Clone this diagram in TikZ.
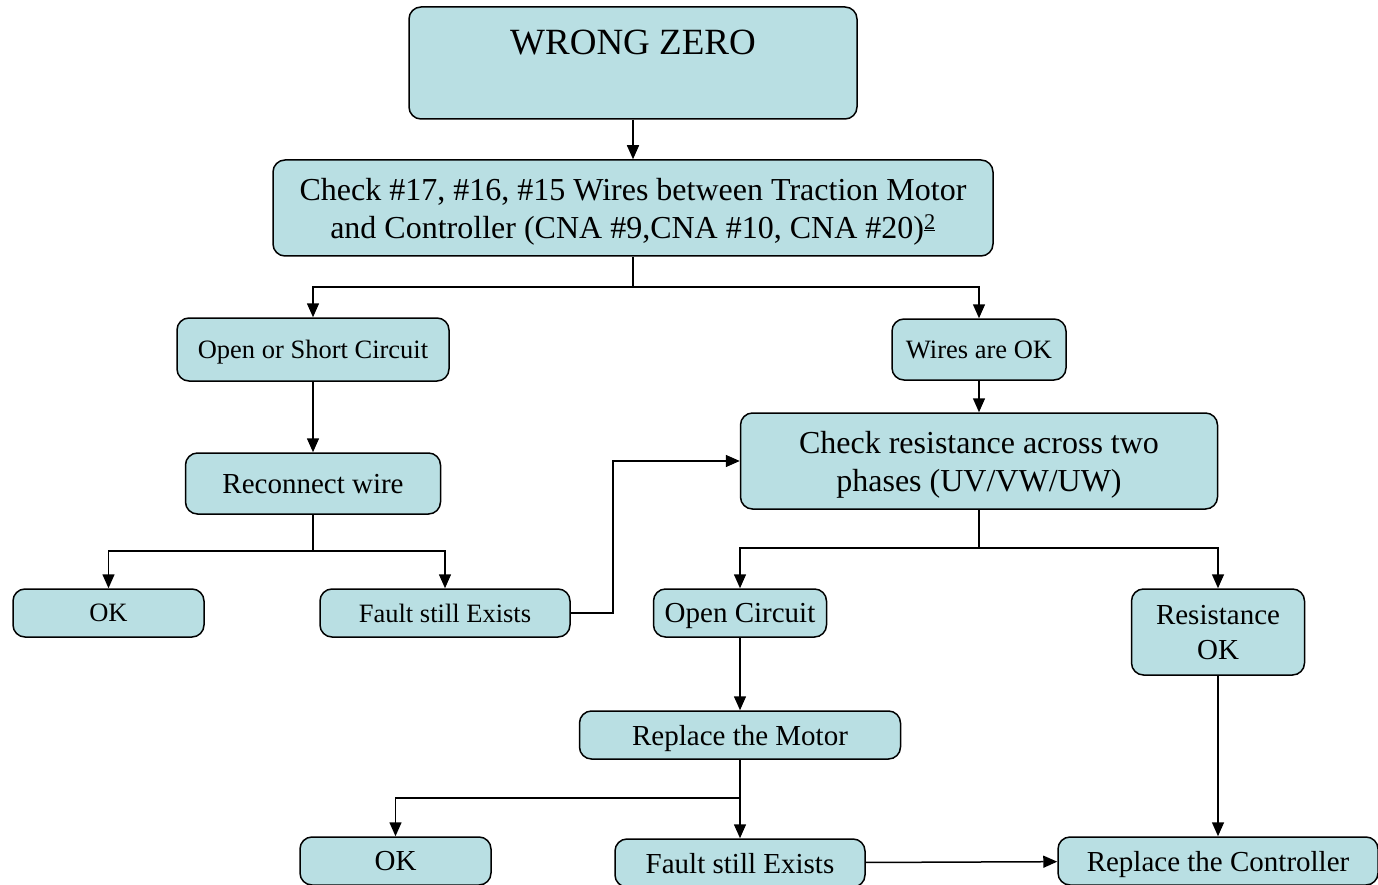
\documentclass[tikz,border=0pt]{standalone}
\usepackage{fontspec}
\setmainfont{Liberation Serif}
\usetikzlibrary{arrows.meta,positioning,calc}

\definecolor{boxfill}{RGB}{185,223,227}

\begin{document}
\begin{tikzpicture}[
  x=1pt, y=-1pt,
  font=\fontsize{29}{35}\selectfont,
  box/.style={
    rectangle, rounded corners=12pt,
    draw=black, line width=1.5pt, fill=boxfill,
    inner sep=0pt, align=center, text depth=0pt
  },
  smallbox/.style={
    box, font=\fontsize{26.5}{32}\selectfont
  },
  bigbox/.style={
    box, font=\fontsize{32}{38}\selectfont
  },
  line/.style={
    line width=1.5pt
  },
  arrow/.style={
    line, -{Triangle[length=14pt,width=12pt]}
  }
]
\useasboundingbox (0,0) rectangle (1378,885);

% Main flow
\node[box, font=\fontsize{37}{44}\selectfont, minimum width=448pt,
      text height=48pt, text depth=64pt] (wrong) at (633,63) {WRONG ZERO};
\node[bigbox, minimum width=720pt, minimum height=96pt] (check) at (633,208)
  {Check \#17, \#16, \#15 Wires between Traction Motor\\and Controller (CNA \#9,CNA \#10, CNA \#20)\textsuperscript{\underline{2}}};

% Left branch
\node[smallbox, minimum width=272pt, minimum height=63pt] (opsc) at (313,349.5) {Open or Short Circuit};
\node[box, minimum width=255pt, minimum height=61pt] (recon) at (313,483.5) {Reconnect wire};
\node[smallbox, minimum width=191pt, minimum height=48pt] (okA) at (108.5,613) {OK};
\node[smallbox, minimum width=250pt, minimum height=48pt] (faultA) at (445,613) {Fault still Exists};

% Right branch
\node[smallbox, minimum width=174pt, minimum height=61pt] (wok) at (979,349.5) {Wires are OK};
\node[bigbox, minimum width=477pt, minimum height=96pt] (resist) at (979,461)
  {Check resistance across two\\phases (UV/VW/UW)};
\node[box, minimum width=173pt, minimum height=48pt] (opcirc) at (740,613) {Open Circuit};
\node[box, minimum width=173pt, minimum height=86pt] (resok) at (1218,632) {Resistance\\OK};
\node[box, minimum width=321pt, minimum height=48pt] (motor) at (740,735) {Replace the Motor};

% Bottom row
\node[box, minimum width=191pt, minimum height=48pt] (okB) at (395.5,861) {OK};
\node[box, minimum width=250pt, minimum height=48pt] (faultB) at (740,863) {Fault still Exists};
\node[box, minimum width=320pt, minimum height=48pt] (ctrl) at (1218,861) {Replace the Controller};

% Junctions
\coordinate (split1) at (633,287);
\coordinate (split2) at (313,551);
\coordinate (split3) at (979,548);
\coordinate (split4) at (740,798);
\coordinate (back) at (613,461);

% Arrows
\draw[arrow] (wrong) -- (check);
\draw[line] (check.south) -- (split1);
\draw[arrow] (split1) -| (opsc);
\draw[arrow] (split1) -| (wok);

\draw[arrow] (opsc) -- (recon);
\draw[line] (recon.south) -- (split2);
\draw[arrow] (split2) -| (okA);
\draw[arrow] (split2) -| (faultA);
\draw[arrow] (faultA.east) -| (back) -- (resist.west);

\draw[arrow] (wok) -- (resist);
\draw[line] (resist.south) -- (split3);
\draw[arrow] (split3) -| (opcirc);
\draw[arrow] (split3) -| (resok);

\draw[arrow] (opcirc) -- (motor);
\draw[line] (motor.south) -- (split4);
\draw[arrow] (split4) -| (okB);
\draw[arrow] (split4) -- (faultB);

\draw[arrow] (faultB) -- (ctrl);
\draw[arrow] (resok) -- (ctrl);

\end{tikzpicture}
\end{document}
